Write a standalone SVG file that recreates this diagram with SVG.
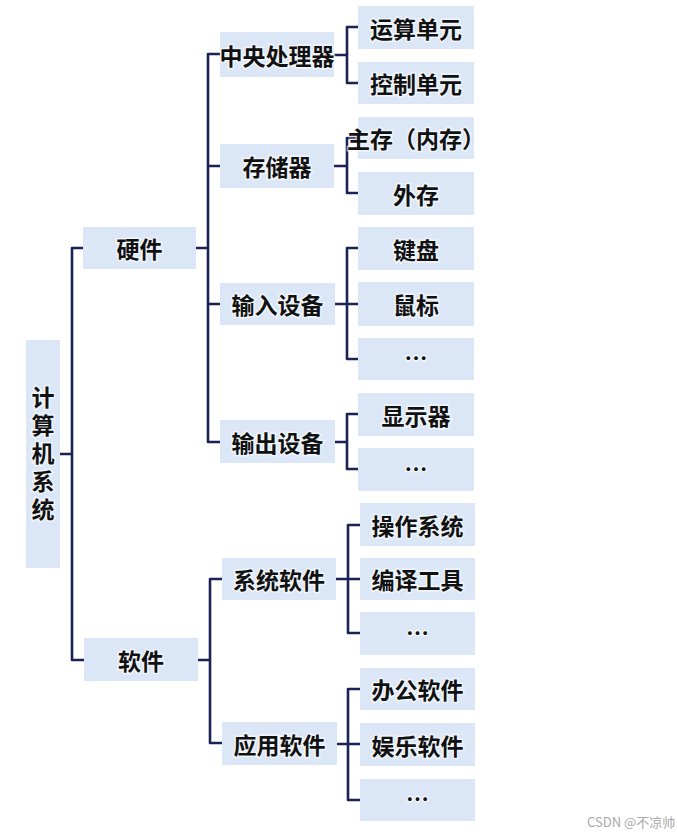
<svg xmlns="http://www.w3.org/2000/svg" width="677" height="836" viewBox="0 0 677 836">
<defs>
<style>
.box{fill:#dbe7f7;}
.t{font-family:"Noto Sans CJK SC","Noto Sans",sans-serif;font-weight:bold;font-size:23px;fill:#111;text-anchor:middle;dominant-baseline:central;stroke:#ffffff;stroke-width:3px;stroke-opacity:0.6;paint-order:stroke;}
.v{writing-mode:vertical-rl;letter-spacing:5px;}
.c{fill:none;stroke:#1b2256;stroke-width:2.6;stroke-linejoin:round;stroke-linecap:butt;}
.wm{font-family:"Noto Sans CJK SC","Liberation Sans",sans-serif;font-size:13px;fill:#a8a8a8;}
</style>
</defs>
<rect width="677" height="836" fill="#ffffff"/>
<g id="connectors">
<path class="c" d="M83,248 H72 V660 H84 M60,454 H72"/>
<path class="c" d="M196,248 H208 M220,54 H208 V442 H220 M208,166 H220 M208,304 H220"/>
<path class="c" d="M198,660 H210 M222,579 H210 V743 H222"/>
<path class="c" d="M334,55 H347 M358,27 H347 V83 H358"/>
<path class="c" d="M334,166 H347 M358,138 H347 V193 H358"/>
<path class="c" d="M335,304 H358 M358,248 H347 V359 H358"/>
<path class="c" d="M335,442 H347 M358,414 H347 V469 H358"/>
<path class="c" d="M336,579 H360 M360,525 H348 V633 H360"/>
<path class="c" d="M337,744 H360 M360,689 H348 V800 H360"/>
</g>
<g id="root"><rect class="box" x="26" y="340" width="34" height="228"/>
<text class="t v" x="43" y="456">计算机系统</text></g>
<g id="hardware"><rect class="box" x="83" y="227" width="113" height="42"/><text class="t" x="139.5" y="248">硬件</text></g>
<g id="software"><rect class="box" x="84" y="638" width="114" height="43"/><text class="t" x="141" y="659.5">软件</text></g>
<g id="cpu"><rect class="box" x="220" y="32" width="114" height="45"/><text class="t" x="277" y="54.5">中央处理器</text></g>
<g id="storage"><rect class="box" x="220" y="144" width="114" height="44"/><text class="t" x="277" y="166">存储器</text></g>
<g id="input"><rect class="box" x="220" y="283" width="115" height="42"/><text class="t" x="277.5" y="304">输入设备</text></g>
<g id="output"><rect class="box" x="220" y="420" width="115" height="43"/><text class="t" x="277.5" y="441.5">输出设备</text></g>
<g id="syssoft"><rect class="box" x="222" y="558" width="114" height="42"/><text class="t" x="279" y="579">系统软件</text></g>
<g id="appsoft"><rect class="box" x="222" y="722" width="115" height="43"/><text class="t" x="279.5" y="743.5">应用软件</text></g>
<g id="alu"><rect class="box" x="358" y="6" width="116" height="43"/><text class="t" x="416" y="27.5">运算单元</text></g>
<g id="cu"><rect class="box" x="358" y="62" width="116" height="42"/><text class="t" x="416" y="83">控制单元</text></g>
<g id="mainmem"><rect class="box" x="358" y="117" width="116" height="42"/><text class="t" x="416" y="138">主存（内存）</text></g>
<g id="extmem"><rect class="box" x="358" y="172" width="116" height="43"/><text class="t" x="416" y="193.5">外存</text></g>
<g id="keyboard"><rect class="box" x="358" y="227" width="116" height="43"/><text class="t" x="416" y="248.5">键盘</text></g>
<g id="mouse"><rect class="box" x="358" y="282" width="116" height="44"/><text class="t" x="416" y="304">鼠标</text></g>
<g id="inmore"><rect class="box" x="358" y="338" width="116" height="42"/><text class="t" x="416" y="357">…</text></g>
<g id="display"><rect class="box" x="358" y="393" width="116" height="43"/><text class="t" x="416" y="414.5">显示器</text></g>
<g id="outmore"><rect class="box" x="358" y="448" width="116" height="43"/><text class="t" x="416" y="467.5">…</text></g>
<g id="os"><rect class="box" x="360" y="503" width="115" height="43"/><text class="t" x="417.5" y="524.5">操作系统</text></g>
<g id="compiler"><rect class="box" x="360" y="558" width="115" height="42"/><text class="t" x="417.5" y="579">编译工具</text></g>
<g id="sysmore"><rect class="box" x="360" y="612" width="115" height="43"/><text class="t" x="417.5" y="631.5">…</text></g>
<g id="office"><rect class="box" x="360" y="668" width="115" height="42"/><text class="t" x="417.5" y="689">办公软件</text></g>
<g id="ent"><rect class="box" x="360" y="723" width="115" height="43"/><text class="t" x="417.5" y="744.5">娱乐软件</text></g>
<g id="appmore"><rect class="box" x="360" y="779" width="115" height="42"/><text class="t" x="417.5" y="798">…</text></g>
<text class="wm" x="587" y="827">CSDN @不凉帅</text>
</svg>
